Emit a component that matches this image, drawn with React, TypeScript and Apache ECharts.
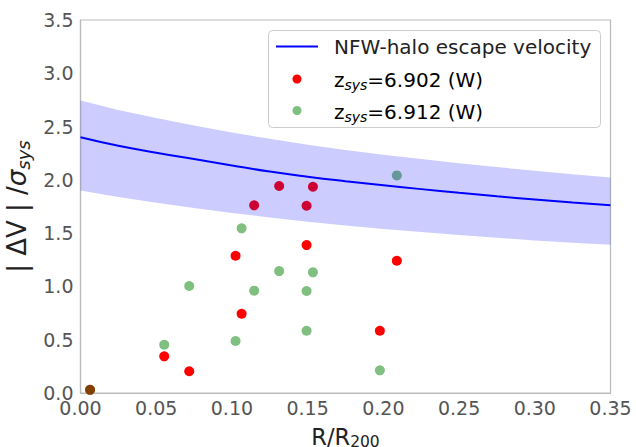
import React, { useEffect, useRef } from "react";
import * as echarts from "echarts";

// Observations (same radial positions for both redshift choices)
const obsR = [0.0063, 0.0553, 0.0718, 0.1024, 0.1064, 0.1147, 0.1312, 0.1493, 0.1535, 0.1493, 0.1977, 0.2089];
const dvRed = [0.03, 0.344, 0.204, 1.288, 0.744, 1.761, 1.942, 1.757, 1.935, 1.388, 0.584, 1.241];
const dvGreen = [0.03, 0.453, 1.004, 0.488, 1.545, 0.96, 1.144, 0.957, 1.132, 0.584, 0.213, 2.042];

// NFW escape velocity curve and its uncertainty band
const curveR = [0, 0.025, 0.05, 0.075, 0.1, 0.125, 0.15, 0.175, 0.2, 0.225, 0.25, 0.275, 0.3, 0.325, 0.35];
const curveV = [2.4, 2.32, 2.255, 2.195, 2.135, 2.078, 2.03, 1.988, 1.95, 1.913, 1.878, 1.846, 1.816, 1.787, 1.761];
const bandUpper = [2.745, 2.655, 2.58, 2.51, 2.445, 2.385, 2.33, 2.28, 2.235, 2.195, 2.155, 2.12, 2.085, 2.052, 2.023];
const bandLower = [1.9, 1.84, 1.785, 1.735, 1.69, 1.647, 1.607, 1.572, 1.54, 1.51, 1.482, 1.456, 1.432, 1.41, 1.391];

const xTicksMin = 0;
const xTicksMax = 0.35;
const xTickStep = 0.05;
const yTicksMin = 0;
const yTicksMax = 3.5;
const yTickStep = 0.5;

const legendLabels = ["NFW-halo escape velocity", "6.902 (W)", "6.912 (W)"];

const FONT = "DejaVu Sans";

export default function App() {
  const ref = useRef<HTMLDivElement>(null);
  useEffect(() => {
    if (!ref.current) return;
    const chart = echarts.init(ref.current, undefined, { renderer: "svg" });
    const redData = obsR.map((x, i) => [x, dvRed[i]]);
    const greenData = obsR.map((x, i) => [x, dvGreen[i]]);
    const curveData = curveR.map((x, i) => [x, curveV[i]]);

    const legendRich = {
      a: { fontFamily: FONT, fontSize: 20, color: "#222", lineHeight: 24 },
      s: { fontFamily: FONT, fontSize: 14, fontStyle: "italic", color: "#222", lineHeight: 14, verticalAlign: "bottom" },
    };

    chart.setOption({
      animation: false,
      backgroundColor: "#ffffff",
      grid: {
        left: 80.5,
        right: 25.5,
        top: 20,
        bottom: 54,
        show: true,
        borderColor: "#bbbbbb",
        borderWidth: 1.2,
        containLabel: false,
        outerBoundsMode: "none",
      },
      xAxis: {
        type: "value",
        min: xTicksMin,
        max: xTicksMax,
        interval: xTickStep,
        axisLine: { show: true, lineStyle: { color: "#bbbbbb", width: 1.2 } },
        axisTick: { show: false },
        splitLine: { show: false },
        axisLabel: {
          color: "#555555",
          fontFamily: FONT,
          fontSize: 19,
          margin: 5,
          formatter: (v: number) => v.toFixed(2),
        },
        name: "{a|R/R}{s|200}",
        nameLocation: "middle",
        nameGap: 31,
        nameTextStyle: {
          rich: {
            a: { fontFamily: FONT, fontSize: 22.5, color: "#222", lineHeight: 26 },
            s: { fontFamily: FONT, fontSize: 15.5, color: "#222", lineHeight: 15, verticalAlign: "bottom" },
          },
        },
      },
      yAxis: {
        type: "value",
        min: yTicksMin,
        max: yTicksMax,
        interval: yTickStep,
        axisLine: { show: true, lineStyle: { color: "#bbbbbb", width: 1.2 } },
        axisTick: { show: false },
        splitLine: { show: false },
        axisLabel: {
          color: "#555555",
          fontFamily: FONT,
          fontSize: 19,
          margin: 7,
          formatter: (v: number) => v.toFixed(1),
        },
        name: "{a|| ΔV | /}{g|σ}{s|sys}",
        nameLocation: "middle",
        nameRotate: 90,
        nameGap: 40,
        nameTextStyle: {
          rich: {
            a: { fontFamily: FONT, fontSize: 26, color: "#222", lineHeight: 30 },
            g: { fontFamily: FONT, fontSize: 26, fontStyle: "italic", color: "#222", lineHeight: 30 },
            s: { fontFamily: FONT, fontSize: 18, fontStyle: "italic", color: "#222", lineHeight: 18, verticalAlign: "bottom" },
          },
        },
      },
      series: [
        {
          type: "scatter",
          name: "red",
          data: redData,
          symbolSize: 10,
          itemStyle: { color: "#ff0000", opacity: 1 },
          silent: true,
          z: 2,
        },
        {
          type: "scatter",
          name: "green",
          data: greenData,
          symbolSize: 10,
          itemStyle: { color: "rgba(0,128,0,0.5)", opacity: 1 },
          silent: true,
          z: 2,
        },
        {
          type: "custom",
          name: "band",
          coordinateSystem: "cartesian2d",
          data: [[curveR[0], curveV[0]]],
          silent: true,
          z: 3,
          renderItem: (_params: any, api: any) => {
            const pts: number[][] = [];
            for (let i = 0; i < curveR.length; i++) pts.push(api.coord([curveR[i], bandUpper[i]]));
            for (let i = curveR.length - 1; i >= 0; i--) pts.push(api.coord([curveR[i], bandLower[i]]));
            return {
              type: "polygon",
              shape: { points: pts, smooth: 0 },
              style: { fill: "rgba(0,0,255,0.2)", stroke: "none" },
            };
          },
        },
        {
          type: "line",
          name: legendLabels[0],
          data: curveData,
          smooth: true,
          showSymbol: false,
          symbol: "none",
          lineStyle: { color: "#0000ff", width: 2 },
          silent: true,
          z: 4,
        },
      ],
      graphic: [
        {
          type: "group",
          z: 10,
          children: [
            {
              type: "rect",
              shape: { x: 268.5, y: 30.5, width: 332, height: 97, r: 4 },
              style: { fill: "rgba(255,255,255,0.8)", stroke: "#cccccc", lineWidth: 1 },
            },
            {
              type: "line",
              shape: { x1: 276, y1: 46.5, x2: 318, y2: 46.5 },
              style: { stroke: "#0000ff", lineWidth: 2 },
            },
            {
              type: "circle",
              shape: { cx: 297, cy: 79, r: 4.5 },
              style: { fill: "#ff0000" },
            },
            {
              type: "circle",
              shape: { cx: 297, cy: 110.5, r: 4.5 },
              style: { fill: "rgba(0,128,0,0.5)" },
            },
            {
              type: "text",
              x: 334,
              y: 46.5,
              style: {
                text: legendLabels[0],
                fontFamily: FONT,
                fontSize: 20,
                fill: "#222",
                verticalAlign: "middle",
              },
            },
            {
              type: "text",
              x: 334,
              y: 80,
              style: {
                text: "{a|z}{s|sys}{a|=" + legendLabels[1] + "}",
                rich: legendRich,
                verticalAlign: "middle",
              },
            },
            {
              type: "text",
              x: 334,
              y: 111.5,
              style: {
                text: "{a|z}{s|sys}{a|=" + legendLabels[2] + "}",
                rich: legendRich,
                verticalAlign: "middle",
              },
            },
          ],
        },
      ],
    });
    return () => chart.dispose();
  }, []);
  return (
    <div
      ref={ref}
      style={{ position: "fixed", left: 0, top: 0, width: 636, height: 447, background: "#fff" }}
    />
  );
}
